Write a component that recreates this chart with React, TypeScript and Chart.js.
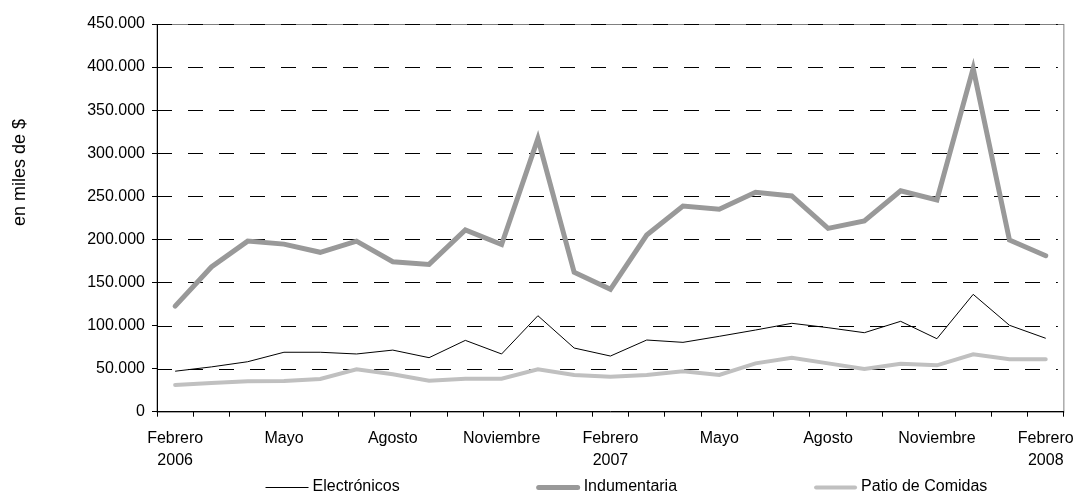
import React, { useEffect, useRef } from "react";
import { Chart, registerables } from "chart.js";

Chart.register(...registerables);

const categories = [
  "Feb 2006", "Mar 2006", "Abr 2006", "May 2006", "Jun 2006", "Jul 2006",
  "Ago 2006", "Sep 2006", "Oct 2006", "Nov 2006", "Dic 2006", "Ene 2007",
  "Feb 2007", "Mar 2007", "Abr 2007", "May 2007", "Jun 2007", "Jul 2007",
  "Ago 2007", "Sep 2007", "Oct 2007", "Nov 2007", "Dic 2007", "Ene 2008",
  "Feb 2008",
];

const xTickLabels: (string | string[])[] = [
  ["Febrero", "2006"], "", "", "Mayo", "", "", "Agosto", "", "", "Noviembre", "", "",
  ["Febrero", "2007"], "", "", "Mayo", "", "", "Agosto", "", "", "Noviembre", "", "",
  ["Febrero", "2008"],
];

const electronicos = [
  47000, 52000, 58000, 69000, 69000, 67000, 71500, 62700, 82800, 67000, 111400, 73900,
  64600, 83200, 80500, 87500, 94800, 102600, 97500, 91700, 104900, 84700, 136200, 100300,
  85200,
];

const indumentaria = [
  122500, 168000, 198000, 194500, 185000, 198000, 174000, 171000, 211000, 194000, 317000, 161800,
  142000, 205000, 238700, 234900, 254600, 250400, 212800, 221300, 256500, 245700, 398500, 199300,
  181000,
];

const patioComidas = [
  31000, 33300, 35300, 35600, 38000, 49200, 43400, 36000, 38300, 38300, 49200, 42600,
  40600, 42600, 46900, 42600, 56100, 62700, 56100, 49600, 55700, 53800, 66600, 60800,
  60800,
];

const seriesNames = ["Electrónicos", "Indumentaria", "Patio de Comidas"];
const yTitle = "en miles de $";

const FONT = "'Liberation Sans', Arial, sans-serif";

function fmt(v: number): string {
  return String(Math.round(v)).replace(/\B(?=(\d{3})+(?!\d))/g, ".");
}

export default function App() {
  const ref = useRef<HTMLCanvasElement | null>(null);

  useEffect(() => {
    const canvas = ref.current;
    if (!canvas) return;

    const frame = {
      id: "frame",
      beforeDraw(chart: any) {
        const { ctx, chartArea: a } = chart;
        ctx.save();
        ctx.strokeStyle = "#808080";
        ctx.lineWidth = 1;
        ctx.strokeRect(a.left, a.top + 0.5, a.right - a.left, a.bottom - a.top);
        ctx.restore();
      },
      beforeDatasetsDraw(chart: any) {
        const { ctx, chartArea: a } = chart;
        const ys = chart.scales.y;
        ctx.save();
        ctx.strokeStyle = "#000";
        ctx.lineWidth = 1;
        ctx.setLineDash([15, 16]);
        ys.ticks.forEach((t: any) => {
          if (t.value === 0) return;
          const py = Math.round(ys.getPixelForValue(t.value)) + 0.5;
          ctx.beginPath();
          ctx.moveTo(a.left, py);
          ctx.lineTo(a.right - 6, py);
          ctx.stroke();
        });
        ctx.restore();
      },
    };

    const extras = {
      id: "extras",
      afterDraw(chart: any) {
        const { ctx, chartArea: a } = chart;
        ctx.save();
        ctx.fillStyle = "#000";
        ctx.font = `18px ${FONT}`;
        ctx.textAlign = "center";
        ctx.textBaseline = "middle";
        ctx.translate(20, a.top + (a.bottom - a.top) * 0.383);
        ctx.rotate(-Math.PI / 2);
        ctx.fillText(yTitle, 0, 0);
        ctx.restore();

        ctx.save();
        ctx.font = `16px ${FONT}`;
        ctx.textBaseline = "middle";
        ctx.textAlign = "left";
        const lineLen = 43;
        const gapText = 4;
        const spacing = 137;
        const ds = chart.data.datasets;
        const widths = ds.map((d: any) => lineLen + gapText + ctx.measureText(d.label).width);
        const total = widths.reduce((s: number, w: number) => s + w, 0) + spacing * (ds.length - 1);
        const cx = (a.left + a.right) / 2 + 16;
        let x = cx - total / 2;
        const y = 487;
        ds.forEach((d: any, i: number) => {
          const thick = d.borderWidth > 2;
          ctx.beginPath();
          ctx.strokeStyle = d.borderColor;
          ctx.lineWidth = d.borderWidth;
          ctx.lineCap = thick ? "round" : "butt";
          ctx.moveTo(x + (thick ? 2 : 0), y + 0.5);
          ctx.lineTo(x + lineLen - (thick ? 2 : 0), y + 0.5);
          ctx.stroke();
          ctx.fillStyle = "#000";
          ctx.fillText(d.label, x + lineLen + gapText, y);
          x += widths[i] + spacing;
        });
        ctx.restore();
      },
    };

    const chart = new Chart(canvas, {
      type: "line",
      data: {
        labels: categories,
        datasets: [
          {
            label: seriesNames[0],
            data: electronicos,
            borderColor: "#000000",
            borderWidth: 1,
            pointRadius: 0,
            tension: 0,
            order: 1,
          },
          {
            label: seriesNames[1],
            data: indumentaria,
            borderColor: "#999999",
            borderWidth: 5,
            pointRadius: 0,
            tension: 0,
            borderJoinStyle: "miter",
            borderCapStyle: "round",
            order: 2,
          },
          {
            label: seriesNames[2],
            data: patioComidas,
            borderColor: "#c0c0c0",
            borderWidth: 4,
            pointRadius: 0,
            tension: 0,
            borderJoinStyle: "miter",
            borderCapStyle: "round",
            order: 3,
          },
        ],
      },
      options: {
        responsive: false,
        animation: false,
        devicePixelRatio: 1,
        layout: { padding: { top: 24, right: 13, bottom: 0, left: 0 } },
        plugins: {
          legend: { display: false },
          tooltip: { enabled: false },
        },
        scales: {
          x: {
            type: "category",
            offset: true,
            grid: {
              offset: true,
              drawOnChartArea: false,
              drawTicks: true,
              tickLength: 5,
              tickColor: "#000",
            },
            border: { display: true, color: "#000", width: 1 },
            ticks: {
              autoSkip: false,
              maxRotation: 0,
              minRotation: 0,
              padding: 11,
              color: "#000",
              font: { family: FONT, size: 16, lineHeight: 1.375 },
              callback: (_v: any, i: number) => xTickLabels[i],
            },
            afterFit: (s: any) => {
              s.height = 84.3;
            },
          },
          y: {
            min: 0,
            max: 450000,
            grid: {
              drawOnChartArea: false,
              drawTicks: true,
              tickLength: 5,
              tickColor: "#000",
            },
            border: { display: true, color: "#000", width: 1 },
            ticks: {
              stepSize: 50000,
              padding: 7,
              color: "#000",
              font: { family: FONT, size: 16 },
              callback: (v: any) => fmt(Number(v)),
            },
            afterFit: (s: any) => {
              s.width = 157;
            },
          },
        },
      },
      plugins: [frame, extras],
    });

    return () => chart.destroy();
  }, []);

  return (
    <div style={{ position: "fixed", left: 0, top: 0, width: 1085, height: 496, background: "#fff" }}>
      <canvas ref={ref} width={1085} height={496} style={{ width: 1085, height: 496 }} />
    </div>
  );
}
